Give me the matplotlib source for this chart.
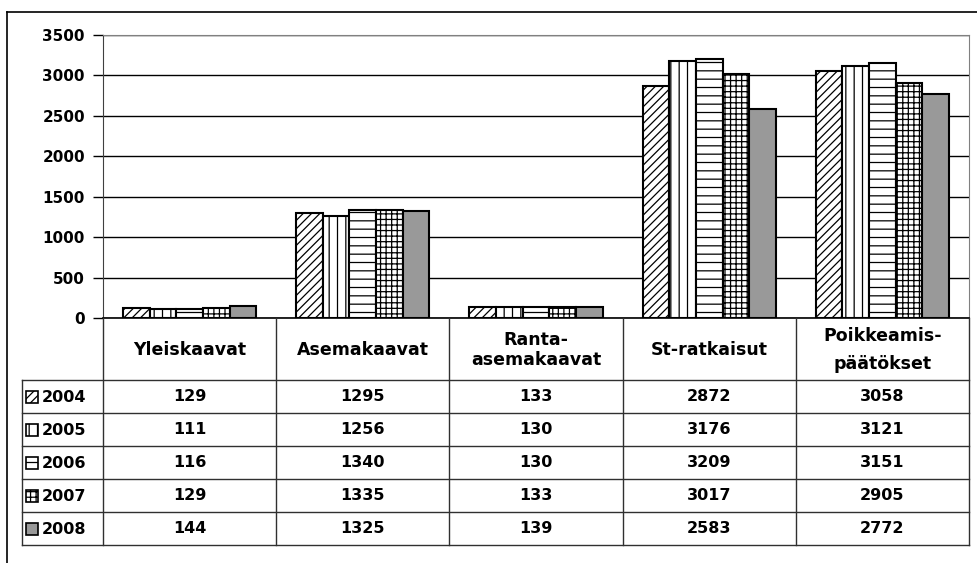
import numpy as np
import matplotlib.pyplot as plt
from matplotlib.patches import Rectangle

plt.rcParams['font.family'] = ['DejaVu Sans']
plt.rcParams['font.weight'] = 'bold'
plt.rcParams['hatch.linewidth'] = 0.9

categories = ['Yleiskaavat', 'Asemakaavat', 'Ranta-\nasemakaavat', 'St-ratkaisut', 'Poikkeamis-\npäätökset']
years = ['2004', '2005', '2006', '2007', '2008']
v2004 = [129, 1295, 133, 2872, 3058]
v2005 = [111, 1256, 130, 3176, 3121]
v2006 = [116, 1340, 130, 3209, 3151]
v2007 = [129, 1335, 133, 3017, 2905]
v2008 = [144, 1325, 139, 2583, 2772]
series = [v2004, v2005, v2006, v2007, v2008]
yticks = [0, 500, 1000, 1500, 2000, 2500, 3000, 3500]

hatches = ['////', '||', '--', '+++', None]
fills = ['white', 'white', 'white', 'white', '#999999']
label_spacing = [1.2, 1.2, 1.15, 1.2, 1.75]

# layout in pixels
W, H = 978, 563
ax_l, ax_r, ax_t, ax_b = 103, 969, 35, 318
head_b = 380
row_h = 33
key_l = 22

fig = plt.figure(figsize=(W / 100, H / 100), dpi=100)
ax = fig.add_axes([ax_l / W, 1 - ax_b / H, (ax_r - ax_l) / W, (ax_b - ax_t) / H])

x = np.arange(len(categories))
bw = 0.154
for i, vals in enumerate(series):
    ax.bar(x + (i - 2) * bw, vals, bw, color=fills[i], edgecolor='black',
           hatch=hatches[i], linewidth=1.5, zorder=3)

ax.set_xlim(-0.5, len(categories) - 0.5)
ax.set_ylim(0, 3500)
ax.set_yticks(yticks)
ax.set_yticklabels([str(t) for t in yticks], fontsize=11, fontweight='bold')
ax.set_xticks([])
ax.tick_params(axis='y', length=7, width=1, direction='out', pad=6)
ax.yaxis.grid(True, color='black', linewidth=1)
ax.set_axisbelow(True)
ax.spines['top'].set_color('#808080')
ax.spines['right'].set_color('#808080')
ax.spines['left'].set_color('#404040')
ax.spines['bottom'].set_linewidth(1.2)

# overlay in pixel coordinates for the data table and outer frame
ov = fig.add_axes([0, 0, 1, 1])
ov.set_xlim(0, W)
ov.set_ylim(H, 0)
ov.axis('off')
ov.patch.set_visible(False)

n = len(categories)
col_w = (ax_r - ax_l) / n
tab_b = head_b + row_h * len(years)
lc = '#303030'

# outer frame (top and left only visible)
ov.plot([7, W], [12, 12], color='black', lw=1.2)
ov.plot([7, 7], [12, H], color='black', lw=1.2)

# table grid
for j in range(n + 1):
    xx = ax_l + j * col_w
    ov.plot([xx, xx], [ax_b, tab_b], color=lc, lw=1)
for r in range(len(years) + 1):
    yy = head_b + r * row_h
    ov.plot([key_l, ax_r], [yy, yy], color=lc, lw=1)
ov.plot([key_l, key_l], [head_b, tab_b], color=lc, lw=1)

for j, cat in enumerate(categories):
    cx = ax_l + (j + 0.5) * col_w
    ov.text(cx, (ax_b + head_b) / 2 + 1, cat, ha='center', va='center', fontsize=12.5,
            fontweight='bold', linespacing=label_spacing[j])

for r, yr in enumerate(years):
    cy = head_b + (r + 0.5) * row_h
    ov.add_patch(Rectangle((key_l + 4, cy - 6), 12, 12, facecolor=fills[r],
                           edgecolor='black', hatch=hatches[r], lw=1.2))
    ov.text(key_l + 20, cy + 1, yr, ha='left', va='center', fontsize=11.5, fontweight='bold')
    for j in range(n):
        cx = ax_l + (j + 0.5) * col_w
        ov.text(cx, cy, str(series[r][j]), ha='center', va='center', fontsize=11.5,
                fontweight='bold')

fig.savefig('out.png', dpi=100)
